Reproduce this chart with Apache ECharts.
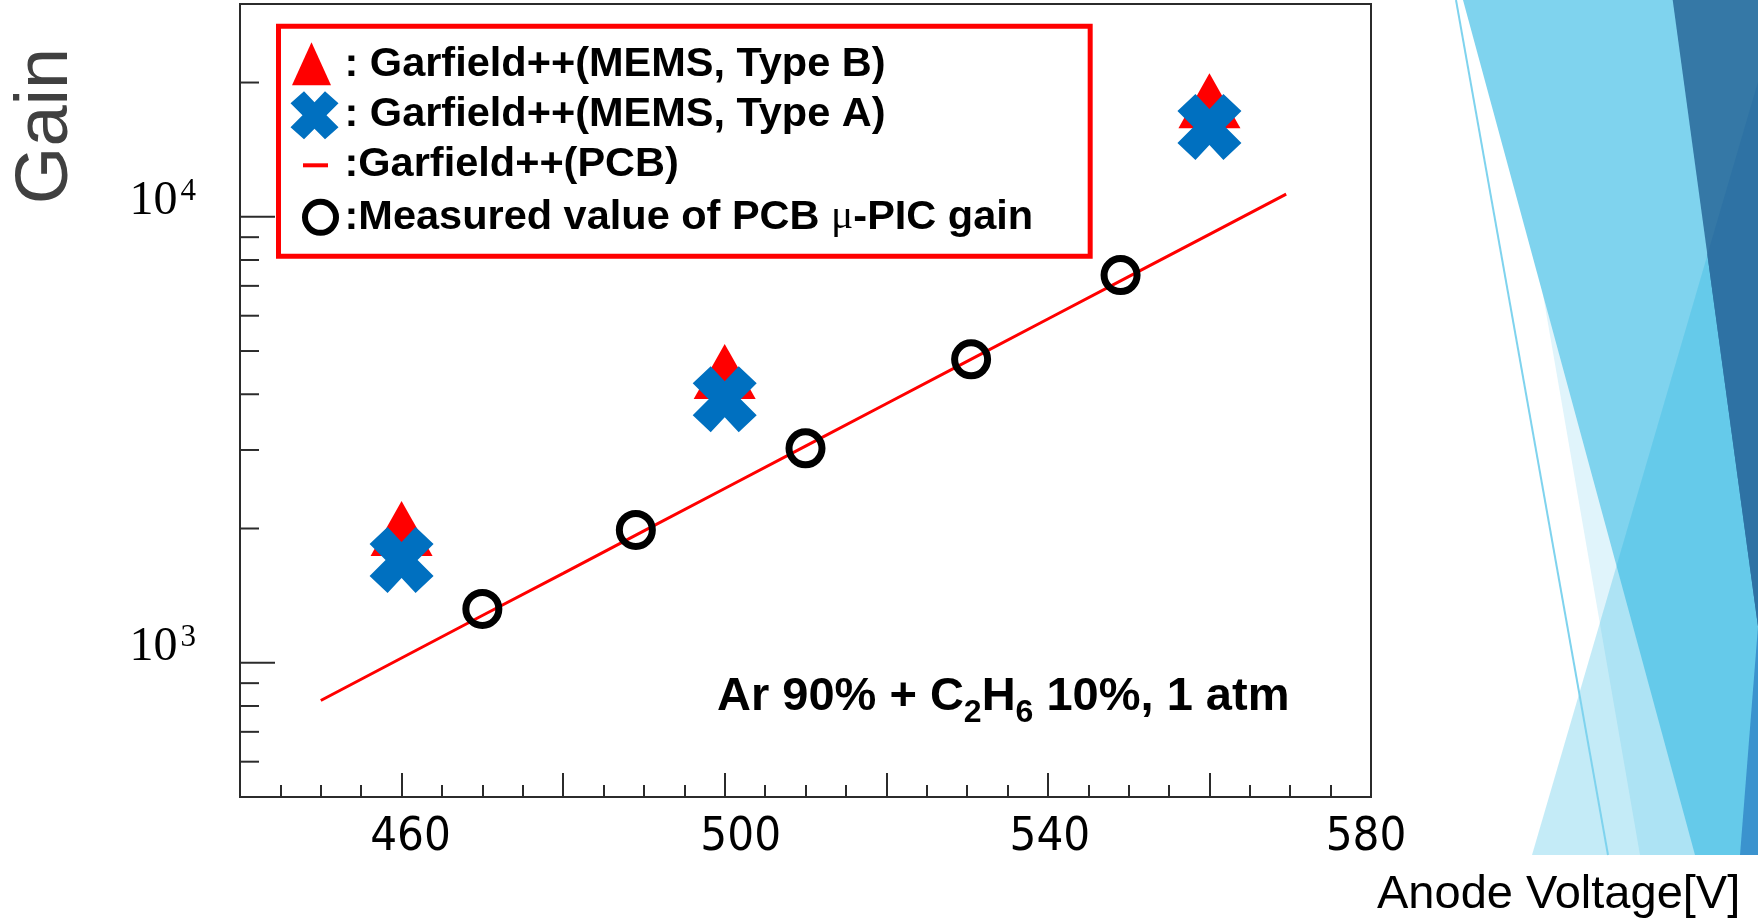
<!DOCTYPE html>
<html>
<head>
<meta charset="utf-8">
<script src="https://cdn.jsdelivr.net/npm/echarts@6/dist/echarts.min.js"></script>
<style>
  html, body { margin: 0; padding: 0; background: #ffffff; }
  #chart { width: 1758px; height: 918px; }
</style>
</head>
<body>
<div id="chart"></div>
<script>
// ---- axes ----
const voltageMin = 440;
const voltageMax = 580;
const voltageStep = 20;
const voltageTickLabels = [460, 500, 540, 580];
const gainMin = 500;
const gainMax = 30000;
const gainMajorTicks = [1000, 10000];
const gainMinorTicks = [600, 700, 800, 900, 2000, 3000, 4000, 5000, 6000, 7000, 8000, 9000, 20000];
const gainLabelValues = [1000, 10000];
const gainLabelExponents = ['3', '4'];

// ---- series names ----
const nameTypeB = ': Garfield++(MEMS, Type B)';
const nameTypeA = ': Garfield++(MEMS, Type A)';
const namePCB = ':Garfield++(PCB)';
const nameMeasured = ':Measured value of PCB μ-PIC gain';

// ---- simulated gains, MEMS mu-PIC ----
const memsVoltage = [460, 500, 560];
const typeBGain = [2000, 4500, 18200];
const typeAGain = [1700, 3900, 15900];

// ---- simulated gain curve, PCB mu-PIC ----
const pcbVoltage = [450, 460, 470, 480, 490, 500, 510, 520, 530, 540, 550, 560, 569.5];
const pcbGain = [823, 1025, 1276, 1587, 1976, 2459, 3060, 3808, 4740, 5899, 7340, 9135, 11245];

// ---- measured gain, PCB mu-PIC ----
const measuredVoltage = [470, 489, 510, 530.5, 549];
const measuredGain = [1320, 1985, 3025, 4790, 7400];

const pairs = (xs, ys) => xs.map((x, i) => [x, ys[i]]);

const FONT = "'Liberation Sans', Arial, sans-serif";
const NARROW = "'Liberation Sans Narrow', 'DejaVu Sans Condensed', 'Liberation Sans', sans-serif";
const SERIF = "'Liberation Serif', 'Times New Roman', serif";
const FRAME = '#2b2b2b';

// horizontal nudge (px) of each voltage label relative to its tick
const voltageLabelShift = [9, 16, 2, -5];
const voltageLabelRich = {};
voltageTickLabels.forEach((v, i) => {
  const d = voltageLabelShift[i];
  voltageLabelRich['v' + i] = {
    fontFamily: NARROW, fontSize: 47, color: '#000',
    padding: d >= 0 ? [0, 0, 0, 2 * d] : [0, -2 * d, 0, 0]
  };
});

// bold cross marker
const crossPath = 'path://M0,17L18,0L32,15L46,0L64,17L48,33L64,49L46,66L32,51L18,66L0,49L16,33Z';

// legend icons, each laid out in a 53x50 cell
const iconTri = 'path://M0,0M53,50M25,3L44.5,46L5.5,46Z';
const iconCross = 'path://M0,0M53,50M4,14L17.5,2L28,13L38.5,2L52,14L40,26L52,38L38.5,50L28,39.5L17.5,50L4,38L16,26Z';
const iconDash = 'path://M0,0M53,50M16.5,24H41.5V28H16.5Z';
const iconRing = 'path://M0,0M53,50M18.5,25A15.5,15.5,0,1,1,49.5,25A15.5,15.5,0,1,1,18.5,25Z';

const chart = echarts.init(document.getElementById('chart'), null, { renderer: 'canvas' });

chart.setOption({
  animation: false,
  backgroundColor: '#ffffff',
  grid: {
    left: 240, right: 387, top: 4, bottom: 121,
    show: true, borderColor: FRAME, borderWidth: 2, backgroundColor: 'transparent',
    containLabel: false, outerBoundsMode: 'none'
  },
  xAxis: {
    type: 'value',
    min: voltageMin, max: voltageMax, interval: voltageStep,
    axisLine: { show: false },
    splitLine: { show: false },
    axisTick: { show: true, inside: true, length: 24, lineStyle: { color: FRAME, width: 2 } },
    minorTick: { show: true, splitNumber: 4, length: 12, lineStyle: { color: FRAME, width: 2 } },
    axisLabel: {
      margin: 17,
      fontFamily: NARROW, fontSize: 47, color: '#000',
      formatter: v => {
        const k = voltageTickLabels.indexOf(Math.round(v));
        return k >= 0 ? '{v' + k + '|' + voltageTickLabels[k] + '}' : '';
      },
      rich: voltageLabelRich
    }
  },
  yAxis: {
    type: 'log', logBase: 10,
    min: gainMin, max: gainMax,
    axisLine: { show: false },
    splitLine: { show: false },
    axisTick: { show: false },
    axisLabel: {
      margin: 44,
      verticalAlign: 'bottom',
      fontFamily: SERIF, fontSize: 48, lineHeight: 32, color: '#000',
      showMinLabel: false, showMaxLabel: false,
      formatter: v => {
        const k = gainLabelValues.indexOf(Math.round(v));
        return k >= 0 ? '{base|10}{sup|' + gainLabelExponents[k] + '}' : '';
      },
      rich: {
        base: { fontFamily: SERIF, fontSize: 48, lineHeight: 30, color: '#000' },
        sup: { fontFamily: SERIF, fontSize: 31, lineHeight: 10, padding: [0, 0, 20, 3], color: '#000' }
      }
    }
  },
  legend: {
    orient: 'vertical',
    left: 278.5, top: 26.3,
    itemWidth: 53, itemHeight: 50, itemGap: 0,
    padding: [13, 57, 11, 5],
    borderColor: '#ff0000', borderWidth: 5, backgroundColor: '#ffffff',
    selectedMode: false,
    symbolKeepAspect: true,
    textStyle: {
      fontFamily: FONT, fontWeight: 'bold', fontSize: 41.5, lineHeight: 44, color: '#000',
      rich: { mu: { fontFamily: SERIF, fontWeight: 'normal', fontSize: 41.5, lineHeight: 44, color: '#000' } }
    },
    formatter: name => name.replace('μ', '{mu|μ}'),
    data: [
      { name: nameTypeB, icon: iconTri, itemStyle: { color: '#ff0000', borderWidth: 0 } },
      { name: nameTypeA, icon: iconCross, itemStyle: { color: '#0070c0', borderWidth: 0 } },
      { name: namePCB, icon: iconDash, itemStyle: { color: '#ff0000', borderWidth: 0 } },
      { name: nameMeasured, icon: iconRing, itemStyle: { color: 'rgba(0,0,0,0)', borderColor: '#000', borderWidth: 6 } }
    ]
  },
  series: [
    {
      name: namePCB, type: 'line',
      data: pairs(pcbVoltage, pcbGain),
      symbol: 'none', showSymbol: false, smooth: false,
      color: '#ff0000',
      lineStyle: { color: '#ff0000', width: 3 },
      itemStyle: { color: '#ff0000' },
      z: 2
    },
    {
      name: nameTypeB, type: 'scatter',
      data: pairs(memsVoltage, typeBGain),
      symbol: 'triangle', symbolSize: [62, 55],
      itemStyle: { color: '#ff0000', opacity: 1 },
      z: 3
    },
    {
      name: nameTypeA, type: 'scatter',
      data: pairs(memsVoltage, typeAGain),
      symbol: crossPath, symbolSize: [64, 66], symbolKeepAspect: false,
      itemStyle: { color: '#0070c0', opacity: 1 },
      z: 4
    },
    {
      name: nameMeasured, type: 'scatter',
      data: pairs(measuredVoltage, measuredGain),
      symbol: 'circle', symbolSize: 33,
      itemStyle: { color: 'rgba(0,0,0,0)', borderColor: '#000', borderWidth: 7, opacity: 1 },
      z: 5
    },
    {
      // y-axis tick marks on the log scale (decades long, sub-decades short)
      type: 'custom',
      silent: true,
      clip: false,
      data: gainMajorTicks.concat(gainMinorTicks).map(v => [voltageMin, v]),
      renderItem: (params, api) => {
        const v = api.value(1);
        const p = api.coord([api.value(0), v]);
        const len = gainMajorTicks.indexOf(v) >= 0 ? 35 : 19;
        return {
          type: 'line',
          shape: { x1: p[0], y1: p[1], x2: p[0] + len, y2: p[1] },
          style: { stroke: FRAME, lineWidth: 2 }
        };
      },
      z: 1
    }
  ],
  graphic: [
    // slide backdrop facets on the right
    { type: 'polygon', silent: true, z: -10, shape: { points: [[1492, 0], [1758, 0], [1758, 855], [1640, 855]] }, style: { fill: '#e0f4fb' } },
    { type: 'polygon', silent: true, z: -10, shape: { points: [[1463, 0], [1758, 0], [1758, 855], [1695, 855]] }, style: { fill: '#7fd3ee' } },
    { type: 'polygon', silent: true, z: -10, shape: { points: [[1758, 82], [1758, 855], [1532, 855]] }, style: { fill: 'rgba(26,178,224,0.26)' } },
    { type: 'polygon', silent: true, z: -10, shape: { points: [[1672.7, 0], [1758, 0], [1758, 626.5]] }, style: { fill: '#3578a6' } },
    { type: 'polygon', silent: true, z: -10, shape: { points: [[1758, 82], [1707.4, 254.8], [1758, 626.5]] }, style: { fill: '#2e72a4' } },
    { type: 'polygon', silent: true, z: -10, shape: { points: [[1758, 626.5], [1758, 855], [1740, 855]] }, style: { fill: '#3b93ce' } },
    { type: 'line', silent: true, z: -10, shape: { x1: 1456, y1: 0, x2: 1608, y2: 855 }, style: { stroke: '#7fd3ee', lineWidth: 2 } },

    // axis titles
    {
      type: 'text', silent: true, x: 46.5, y: 126, rotation: Math.PI / 2,
      style: { text: 'Gain', fontFamily: FONT, fontSize: 74, fill: '#404040', align: 'center', verticalAlign: 'middle' }
    },
    {
      type: 'text', silent: true, x: 1377, y: 895,
      style: { text: 'Anode Voltage[V]', fontFamily: FONT, fontSize: 47, fill: '#000', align: 'left', verticalAlign: 'middle' }
    },

    // gas condition
    {
      type: 'text', silent: true, x: 717, y: 697,
      style: {
        text: '{m|Ar 90% + C}{s|2}{m|H}{s|6}{m| 10%, 1 atm}',
        align: 'left', verticalAlign: 'middle',
        rich: {
          m: { fontFamily: FONT, fontWeight: 'bold', fontSize: 47, lineHeight: 60, fill: '#000', color: '#000' },
          s: { fontFamily: FONT, fontWeight: 'bold', fontSize: 32, lineHeight: 32, padding: [32, 0, 0, 0], fill: '#000', color: '#000' }
        }
      }
    }
  ]
});
</script>
</body>
</html>
